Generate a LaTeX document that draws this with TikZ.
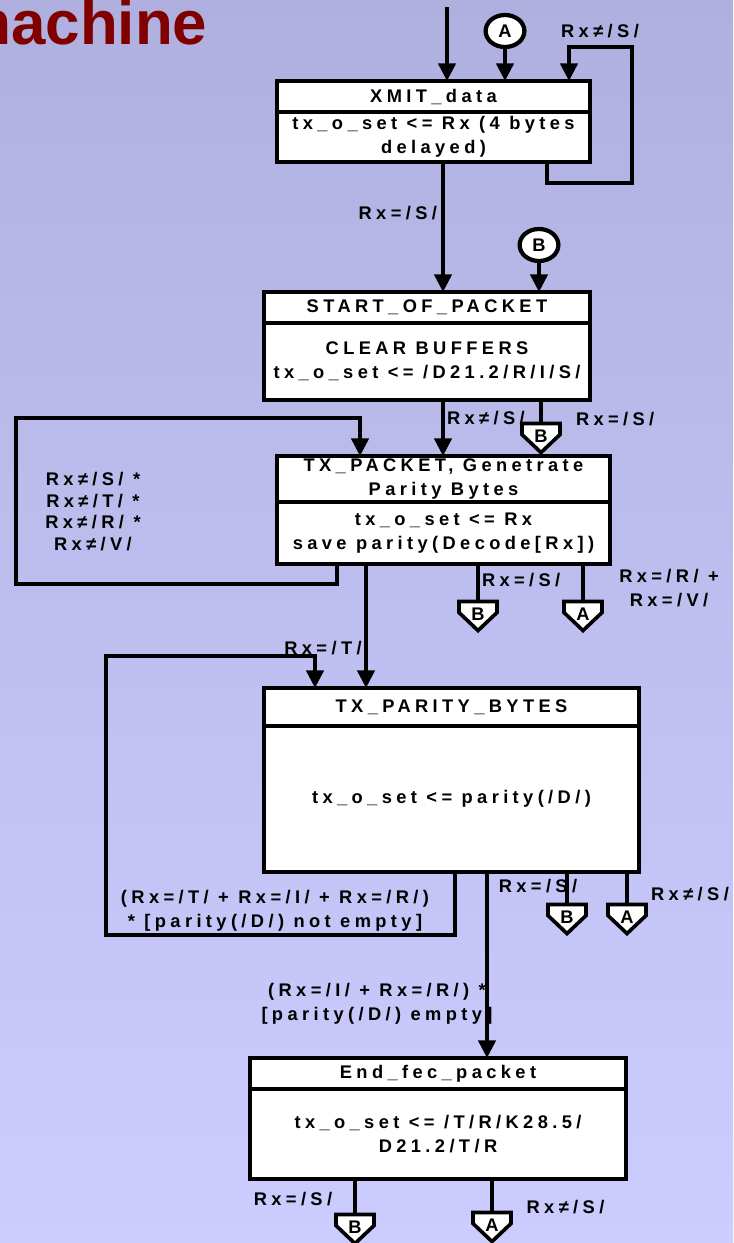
\documentclass[tikz,border=0pt]{standalone}
\usepackage{fontspec}
\setmainfont{Liberation Sans}[LetterSpace=24]
\newfontfamily\titlefont{Liberation Sans}
\usetikzlibrary{arrows.meta,positioning,shapes.geometric,shapes.symbols}

\definecolor{bgtop}{RGB}{176,176,224}
\definecolor{bgbottom}{RGB}{204,204,255}
\definecolor{maroon}{RGB}{128,0,0}

\begin{document}
\begin{tikzpicture}[x=0.025cm, y=-0.025cm,
    every node/.style = {outer sep=0pt, font=\bfseries\fontsize{13}{17}\selectfont},
    head/.style = {draw, fill=white, line width=3.1pt, inner sep=0pt, align=center},
    body/.style = {head, below=0pt of #1},
    line/.style = {line width=2.6pt},
    arr/.style = {line, -{Triangle[length=0.44cm, width=0.43cm]}},
    conn/.style = {draw, fill=white, ellipse, line width=3pt, inner sep=0pt,
                   minimum width=0.97cm, minimum height=0.8cm},
    offpage/.style = {draw, fill=white, shape=signal, signal to=south,
                      signal pointer angle=93, line width=2.6pt, inner sep=0pt,
                      minimum width=0.95cm, minimum height=0.275cm, anchor=north,
                      label={[yshift=-0.19cm, inner sep=0pt]center:#1}},
    lbl/.style = {inner sep=0pt, align=center}]

    \useasboundingbox (0,0) rectangle (733,1243);
    \shade[top color=bgtop, bottom color=bgbottom] (0,0) rectangle (733,1243);

    \node[anchor=base east, text=maroon, font=\titlefont\bfseries\fontsize{44}{48}\selectfont]
        (title) at (212,44) {machine};

    % states
    \node[head, minimum width=7.825cm, minimum height=0.775cm] (xmit) at (433.5,96.5) {XMIT\_data};
    \node[body=xmit, minimum width=7.825cm, minimum height=1.25cm] (xmitdo)
        {tx\_o\_set <= Rx (4 bytes\\delayed)};

    \node[head, minimum width=8.15cm, minimum height=0.775cm] (start) at (427,307.5) {START\_OF\_PACKET};
    \node[body=start, minimum width=8.15cm, minimum height=1.925cm] (startdo)
        {CLEAR BUFFERS\\tx\_o\_set <= /D21.2/R/I/S/};

    \node[head, minimum width=8.325cm, minimum height=1.15cm] (txp) at (443.5,479)
        {TX\_PACKET, Genetrate\\Parity Bytes};
    \node[body=txp, minimum width=8.325cm, minimum height=1.55cm] (txpdo)
        {tx\_o\_set <= Rx\\save parity(Decode[Rx])};

    \node[head, minimum width=9.375cm, minimum height=0.95cm] (par) at (451.5,707) {TX\_PARITY\_BYTES};
    \node[body=par, minimum width=9.375cm, minimum height=3.65cm] (pardo)
        {tx\_o\_set <= parity(/D/)};

    \node[head, minimum width=9.4cm, minimum height=0.775cm] (fec) at (438,1073.5) {End\_fec\_packet};
    \node[body=fec, minimum width=9.4cm, minimum height=2.25cm] (fecdo)
        {tx\_o\_set <= /T/R/K28.5/\\D21.2/T/R};

    % connectors in and out
    \node[conn] (inA) at (505,31) {A};
    \node[conn] (inB) at (539,245) {B};
    \node[offpage=B] (outB1) at (541,423.5) {};
    \node[offpage=B] (outB2) at (478,601.5) {};
    \node[offpage=A] (outA2) at (583,601.5) {};
    \node[offpage=B] (outB3) at (567,904.5) {};
    \node[offpage=A] (outA3) at (627,904.5) {};
    \node[offpage=B] (outB4) at (355,1214.5) {};
    \node[offpage=A] (outA4) at (492,1212.5) {};

    \coordinate (entry) at (447,7);

    % transitions
    \draw[arr] (entry) -- (entry |- xmit.north);
    \draw[arr] (inA.south) -- (inA.south |- xmit.north);
    \draw[arr] (547,0 |- xmitdo.south) -- (547,183) -- (632,183) -- (632,47) -- (569,47)
        -- (569,0 |- xmit.north);
    \draw[arr] (443,0 |- xmitdo.south) -- (443,0 |- start.north);
    \draw[arr] (inB.south) -- (inB.south |- start.north);

    \draw[arr] (443,0 |- startdo.south) -- (443,0 |- txp.north);
    \draw[line] (outB1.north |- startdo.south) -- (outB1.north);

    \draw[arr] (337,0 |- txpdo.south) -- (337,584) -- (16,584) -- (16,418) -- (360,418)
        -- (360,0 |- txp.north);
    \draw[arr] (366,0 |- txpdo.south) -- (366,0 |- par.north);
    \draw[line] (outB2.north |- txpdo.south) -- (outB2.north);
    \draw[line] (outA2.north |- txpdo.south) -- (outA2.north);

    \draw[arr] (455,0 |- pardo.south) -- (455,935) -- (106,935) -- (106,656) -- (315,656)
        -- (315,0 |- par.north);
    \draw[arr] (487,0 |- pardo.south) -- (487,0 |- fec.north);
    \draw[line] (outB3.north |- pardo.south) -- (outB3.north);
    \draw[line] (outA3.north |- pardo.south) -- (outA3.north);

    \draw[line] (outB4.north |- fecdo.south) -- (outB4.north);
    \draw[line] (outA4.north |- fecdo.south) -- (outA4.north);

    % conditions
    \node[lbl] (lxloop) at (600,31) {Rx≠/S/};
    \node[lbl, anchor=east] (lxs) at (437,213) {Rx=/S/};
    \node[lbl, anchor=west] (lsn) at (447,418) {Rx≠/S/};
    \node[lbl, anchor=west] (lsb) at (576,419) {Rx=/S/};
    \node[lbl, font=\bfseries\fontsize{13}{15.5}\selectfont] (lploop) at (93,511.5)
        {Rx≠/S/ *\\Rx≠/T/ *\\Rx≠/R/ *\\Rx≠/V/};
    \node[lbl] (lpt) at (323,648) {Rx=/T/};
    \node[lbl, anchor=west] (lps) at (482,580) {Rx=/S/};
    \node[lbl] (lprv) at (669,588) {Rx=/R/ +\\Rx=/V/};
    \node[lbl] (lqloop) at (275,910.5)
        {(Rx=/T/ + Rx=/I/ + Rx=/R/)\\{}* [parity(/D/) not empty]};
    \node[lbl] (lqe) at (377,1003.5) {(Rx=/I/ + Rx=/R/) *\\{[}parity(/D/) empty]};
    \node[lbl] (lqs) at (538,886) {Rx=/S/};
    \node[lbl] (lqn) at (690,894) {Rx≠/S/};
    \node[lbl] (les) at (293,1199) {Rx=/S/};
    \node[lbl] (len) at (565.5,1207) {Rx≠/S/};
\end{tikzpicture}
\end{document}
